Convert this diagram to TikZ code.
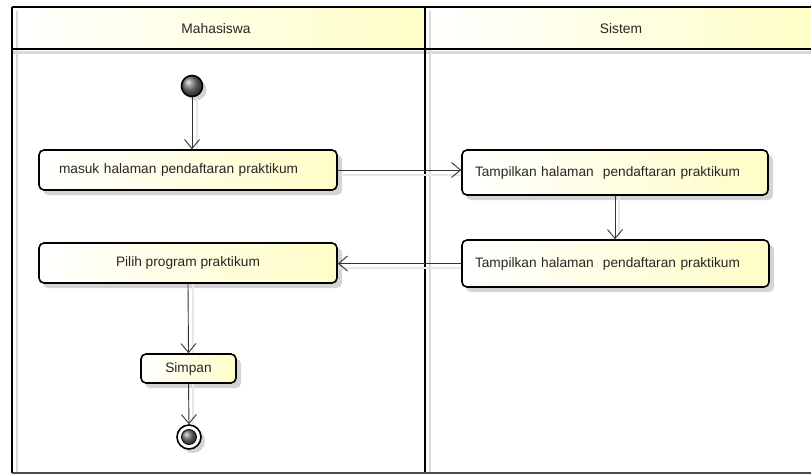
\documentclass[tikz,border=0pt]{standalone}
\usepackage{fontspec}
\setmainfont{Liberation Sans}
\usetikzlibrary{arrows.meta,calc}
\definecolor{umlyellow}{HTML}{FFFDC6}
\definecolor{headyellow}{HTML}{FFFFC8}
\definecolor{shadowgray}{HTML}{D4D4D4}
\tikzset{
  act/.style={draw=black, line width=1.6pt, rounded corners=5pt,
    left color=white, right color=umlyellow, font=\fontsize{13.7}{16}\selectfont,
    text=black!85, inner xsep=0pt, inner ysep=0pt},
  actshadow/.style={fill=shadowgray, rounded corners=5pt, draw=none},
  flow/.style={draw=black!80, line width=0.9pt, -{Straight Barb[length=9pt,width=15pt,line width=0.9pt]}},
  flowshadow/.style={draw=black!9, line width=1.6pt},
  lane/.style={draw=black, line width=1.8pt},
  laneshadow/.style={draw=black!15, line width=2.5pt},
  headtext/.style={font=\fontsize{13.8}{16}\selectfont, text=black!85}
}
\begin{document}
\begin{tikzpicture}[x=1pt,y=-1pt]
\useasboundingbox[fill=white] (0,0) rectangle (811,475);
% header fills
\shade[left color=white, right color=headyellow] (12,7) rectangle (425,49);
\shade[left color=white, right color=headyellow] (425,7) rectangle (811,49);
% lane shadows
\draw[laneshadow] (17,11) -- (17,473);
\draw[laneshadow] (430,11) -- (430,473);
\draw[laneshadow] (12,52.5) -- (811,52.5);
% lane lines
\draw[lane] (12,7) -- (811,7);
\draw[lane] (12,49) -- (811,49);
\draw[lane] (12,7) -- (12,473);
\draw[lane] (425,7) -- (425,473);
\draw[draw=black!70, line width=2pt] (12,473) -- (811,473);
% headers
\node[headtext] (hm) at (216,29) {Mahasiswa};
\node[headtext] (hs) at (621,29) {Sistem};

% shadows of activities
\fill[actshadow] (43,155) rectangle (342,195);
\fill[actshadow] (466,155) rectangle (773,200);
\fill[actshadow] (466,245) rectangle (774,292);
\fill[actshadow] (43,248) rectangle (342,288);
\fill[actshadow] (145,359) rectangle (241,388);
\fill[shadowgray] (196,90) circle (10.5);
\fill[shadowgray] (193,441) circle (12);

% connector shadows
\draw[flowshadow] (197,98) -- (197,150);
\draw[flowshadow] (341,175) -- (462,175);
\draw[flowshadow] (619,195) -- (619,240);
\draw[flowshadow] (337,268) -- (462,268);
\draw[flowshadow] (193,283) -- (193,354);
\draw[flowshadow] (193,383) -- (193,425);

% start node
\node[circle, draw=black, line width=1.6pt, minimum size=21pt, inner sep=0pt,
  ball color=black!55, shading=ball] (start) at (192,86) {};

% activities
\node[act, minimum width=298pt, minimum height=40pt, text width=258pt, align=left] (a1) at (188,170)
  {masuk halaman pendaftaran praktikum};
\node[act, minimum width=306pt, minimum height=45pt, text width=280pt, align=left] (a2) at (615,172.5)
  {Tampilkan halaman\ \ pendaftaran praktikum};
\node[act, minimum width=307pt, minimum height=47pt, text width=281pt, align=left] (a3) at (615.5,263.5)
  {Tampilkan halaman\ \ pendaftaran praktikum};
\node[act, minimum width=298pt, minimum height=40pt] (a4) at (188,263)
  {Pilih program praktikum};
\node[act, minimum width=95pt, minimum height=29pt] (a5) at (188.5,368.5)
  {Simpan};

% end node
\node[circle, draw=black, line width=1.6pt, fill=white, minimum size=24pt, inner sep=0pt] (end) at (189,437) {};
\node[circle, draw=black, line width=0.8pt, minimum size=15pt, inner sep=0pt,
  ball color=black!55, shading=ball] (endin) at (end.center) {};

% flows
\draw[flow] (start.south) -- (start.south |- a1.north);
\draw[flow] (a1.east) -- (a1.east -| a2.west);
\draw[flow] (a2.south) -- (a2.south |- a3.north);
\draw[flow] (a3.west) -- (a3.west -| a4.east);
\draw[flow] (a4.south) -- (a5.north);
\draw[flow] (a5.south) -- (end.north);
\end{tikzpicture}
\end{document}
